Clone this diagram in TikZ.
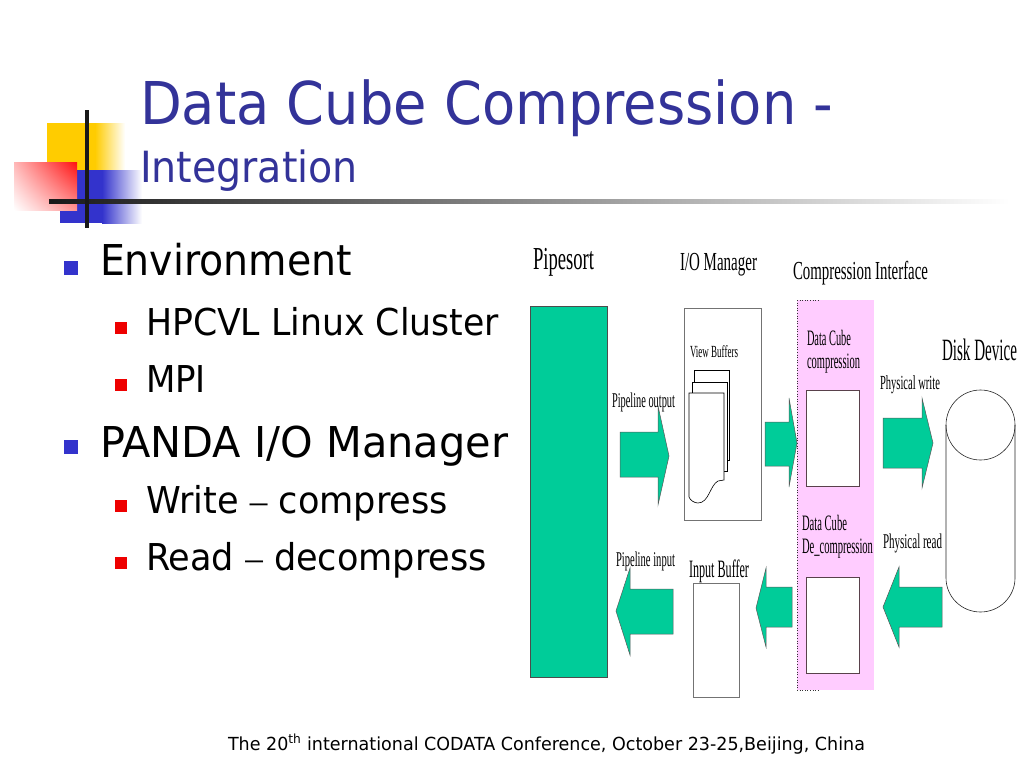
\documentclass[tikz,border=0pt]{standalone}
\usepackage{fontspec}
\usepackage{graphicx}
\usetikzlibrary{shadings}
\setmainfont[FakeStretch=0.92]{DejaVu Sans}
\newfontfamily\diagfont{Liberation Serif}
\newfontfamily\dashfont[FakeStretch=0.92]{Liberation Serif}
\definecolor{titleblue}{HTML}{333399}
\definecolor{bulblue}{HTML}{3333CC}
\definecolor{bulred}{HTML}{EE0000}
\definecolor{logoyellow}{HTML}{FFCC00}
\definecolor{logored}{HTML}{FF1010}
\definecolor{logoblue}{HTML}{3333CC}
\definecolor{flowgreen}{HTML}{00CC99}
\definecolor{pinkzone}{HTML}{FFCCFF}
\newcommand\lbl[3]{\resizebox{#2pt}{\height}{\fontsize{#1}{#1}\selectfont\diagfont #3}}
\newcommand\fitw[2]{\resizebox{#1pt}{\height}{#2}}
\tikzset{
  txt/.style={anchor=base west, inner sep=0pt, outer sep=0pt},
  big/.style={txt, font=\fontsize{42.5}{50}\selectfont},
  small/.style={txt, font=\fontsize{37}{44}\selectfont},
  bluebul/.style={fill=bulblue, draw=none},
  redbul/.style={fill=bulred, draw=none},
  blockarrow/.style={fill=flowgreen, draw=black!65, line width=0.5pt},
  plainbox/.style={fill=white, draw=black!55, line width=0.7pt},
  innerbox/.style={fill=white, draw=black!75!magenta, line width=0.7pt},
  diag/.style={anchor=base west, inner sep=0pt, outer sep=0pt},
}
\begin{document}
\begin{tikzpicture}[x=1pt,y=-1pt]
\useasboundingbox[fill=white] (0,0) rectangle (1024,768);

% ---- logo ----
\fill[logoyellow] (47,123) rectangle (95,175);
\shade[left color=logoyellow, right color=white] (95,123) rectangle (125,175);
\fill[logoblue] (60,170) rectangle (102,223);
\shade[left color=logoblue, right color=white] (102,170) rectangle (142,223);
\shade[upper right=logored, upper left=logored!30!white,
       lower right=logored!45!white, lower left=white] (14,162) rectangle (77,210);
\shade[left color=black!90, right color=white] (49,199) rectangle (1010,203);
\fill[black!90] (85,110) rectangle (89,228);

% ---- title ----
\node[txt, text=titleblue, font=\fontsize{59}{66}\selectfont] (title) at (140,124) {Data Cube Compression -};
\node[txt, text=titleblue, font=\fontsize{43}{50}\selectfont] (subtitle) at (140,182) {Integration};

% ---- bullets ----
\fill[bluebul] (64,261) rectangle (78,275);
\node[big] (env) at (100,275) {\fitw{252}{Environment}};
\fill[redbul] (115,322) rectangle (127,334);
\node[small] (hpcvl) at (146,335) {\fitw{353}{HPCVL Linux Cluster}};
\fill[redbul] (115,379) rectangle (127,391);
\node[small] (mpi) at (146,392) {MPI};
\fill[bluebul] (64,440) rectangle (78,454);
\node[big] (panda) at (100,457) {\fitw{408}{PANDA I/O Manager}};
\fill[redbul] (115,500) rectangle (127,512);
\node[small] (write) at (146,513) {\fitw{302}{Write {\dashfont –} compress}};
\fill[redbul] (115,557) rectangle (127,569);
\node[small] (read) at (146,570) {\fitw{341}{Read {\dashfont –} decompress}};

% ---- footer ----
\node[txt, font=\fontsize{18}{20}\selectfont] (footer) at (228,750)
  {\fitw{637}{The 20\textsuperscript{th} international CODATA Conference, October 23-25,Beijing, China}};

% ---- diagram labels ----
\node[diag] (pipesortlbl) at (533,269) {\lbl{32}{61}{Pipesort}};
\node[diag] (iomlbl) at (680,270) {\lbl{26}{77}{I/O Manager}};
\node[diag] (cilbl) at (793,279) {\lbl{26}{135}{Compression Interface}};
\node[diag] (disklbl) at (942,360) {\lbl{31}{75}{Disk Device}};

% ---- Pipesort ----
\draw[fill=flowgreen, draw=black!70, line width=0.7pt] (530,306) rectangle (607,677);
\coordinate (pipesort) at (568.5,491.5);

% ---- I/O manager ----
\draw[plainbox] (684,308) rectangle (761,520);
\coordinate (iom) at (722.5,414);
\node[diag] (vblbl) at (690,357) {\lbl{17}{48}{View Buffers}};
\draw[fill=white, draw=black, line width=0.6pt] (694,370) rectangle (729,460);
\draw[fill=white, draw=black, line width=0.6pt] (692,382) rectangle (727,471);
\draw[fill=white, draw=black, line width=0.6pt]
  (689,393) -- (724,393) -- (724,480) -- (718,481)
  .. controls (710,485) and (709,503) .. (698,503)
  .. controls (694,503) and (690,500) .. (689,497) -- cycle;

% ---- compression interface zone ----
\fill[pinkzone] (797,300) rectangle (874,690);
\draw[black!80, dotted, line width=0.6pt] (797,300) -- (797,690);
\draw[black!80, dotted, line width=0.6pt] (797,300) -- (818,300);
\draw[black!80, dotted, line width=0.6pt] (797,690) -- (818,690);
\node[diag] (dc1) at (807,345) {\lbl{22}{44}{Data Cube}};
\node[diag] (dc2) at (807,368) {\lbl{22}{53}{compression}};
\draw[innerbox] (806,390) rectangle (859,486);
\node[diag] (dd1) at (802,530) {\lbl{22}{45}{Data Cube}};
\node[diag] (dd2) at (802,553) {\lbl{22}{71}{De\_compression}};
\draw[innerbox] (806,577) rectangle (859,673);

% ---- input buffer ----
\node[diag] (iblbl) at (689,577) {\lbl{25}{60}{Input Buffer}};
\draw[plainbox] (693,583) rectangle (739,697);

% ---- disk device ----
\draw[black!85, line width=0.6pt] (980.5,425) ellipse [x radius=34.5pt, y radius=35pt];
\draw[black!85, line width=0.6pt] (1015,425) -- (1015,578)
  .. controls (1015,596.8) and (999.5,612) .. (980.5,612)
  .. controls (961.5,612) and (946,596.8) .. (946,578) -- (946,425);

% ---- flow labels ----
\node[diag] (polbl) at (612,407) {\lbl{21}{63}{Pipeline output}};
\node[diag] (pilbl) at (616,566) {\lbl{21}{59}{Pipeline input}};
\node[diag] (pwlbl) at (880,389) {\lbl{20}{60}{Physical write}};
\node[diag] (prlbl) at (883,548) {\lbl{21}{59}{Physical read}};

% ---- block arrows ----
\draw[blockarrow] (620,432) -- (658,432) -- (658,406) -- (669,456) -- (658,505) -- (658,477) -- (620,477) -- cycle;
\draw[blockarrow] (765,422) -- (789,422) -- (789,398) -- (797,443) -- (789,487) -- (789,466) -- (765,466) -- cycle;
\draw[blockarrow] (883,418) -- (922,418) -- (922,398) -- (933,443) -- (922,488) -- (922,468) -- (883,468) -- cycle;
\draw[blockarrow] (942,587) -- (899,587) -- (899,567) -- (883,607) -- (899,647) -- (899,627) -- (942,627) -- cycle;
\draw[blockarrow] (792,587) -- (766,587) -- (766,568) -- (756,608) -- (766,647) -- (766,627) -- (792,627) -- cycle;
\draw[blockarrow] (673,589) -- (630,589) -- (630,568) -- (616,611) -- (630,655) -- (630,634) -- (673,634) -- cycle;
\end{tikzpicture}
\end{document}
